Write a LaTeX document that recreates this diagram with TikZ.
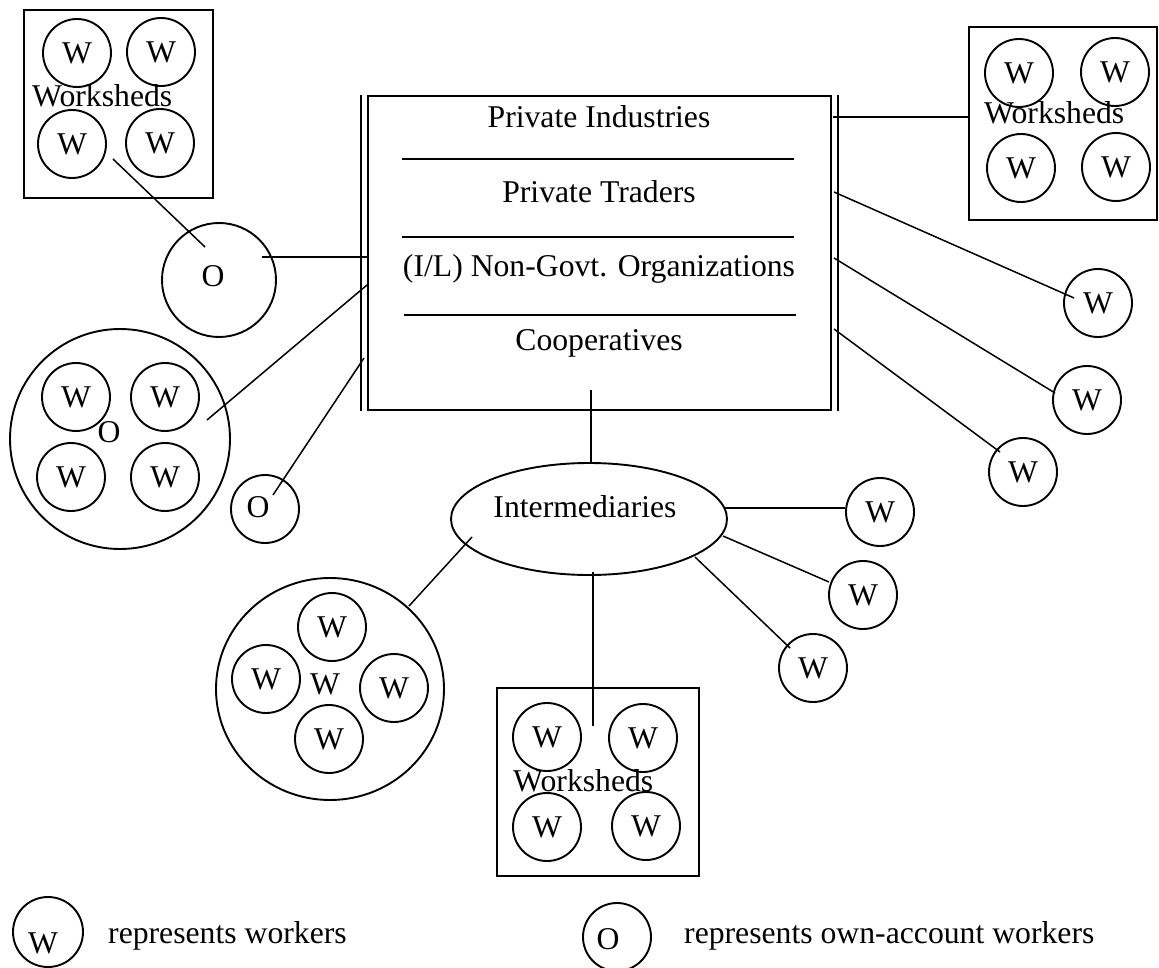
\documentclass[tikz,border=0pt]{standalone}
\usepackage{fontspec}
\setmainfont{Liberation Serif}
\usetikzlibrary{shapes.geometric,calc}
\begin{document}
\begin{tikzpicture}[x=1pt,y=-1pt,
  every node/.style={font=\fontsize{31.7}{38}\selectfont},
  wcirc/.style={circle,draw,line width=1.9pt,minimum size=68pt,inner sep=0pt},
  ocirc/.style={circle,draw,line width=1.9pt,inner sep=0pt},
  wbox/.style={rectangle,draw,line width=2pt,inner sep=0pt},
  lbl/.style={inner sep=0pt,anchor=base},
  lblw/.style={inner sep=0pt,anchor=base west},
  conn/.style={line width=1.5pt},
  sepline/.style={line width=2.2pt}]
\useasboundingbox (0,0) rectangle (1159,968);

% ---------- main box ----------
\node[wbox,minimum width=463pt,minimum height=314pt] (org) at (599.5,253) {};
\draw[line width=2pt] ([xshift=-6pt]org.north west) -- ([xshift=-6pt]org.south west);
\draw[line width=2pt] ([xshift=6pt]org.north east) -- ([xshift=6pt]org.south east);
\draw[sepline] (402,159) -- (794,159);
\draw[sepline] (402,237) -- (794,237);
\draw[sepline] (404,315) -- (796,315);
\node[lbl] (pi) at (599,128) {Private Industries};
\node[lbl] (pt) at (599,203) {Private Traders};
\node[lbl] (ngo) at (599,277) {(I/L) Non-Govt. Organizations};
\node[lbl] (coop) at (599,350) {Cooperatives};

% ---------- top-left worksheds ----------
\node[wbox,minimum width=189pt,minimum height=188pt] (tlbox) at (118.5,104) {};
\node[wcirc] (tl1) at (77,53) {W};
\node[wcirc] (tl2) at (161,52) {W};
\node[wcirc] (tl3) at (72,144) {W};
\node[wcirc] (tl4) at (160,143) {W};
\node[lblw] (tlws) at (32,107) {Worksheds};

% ---------- left own-account ----------
\node[ocirc,minimum size=114pt] (o1) at (219,280) {};
\node[lbl] (o1t) at (213,287) {O};
\node[ocirc,minimum size=220pt] (bc1) at (120,439) {};
\node[wcirc] (bc1a) at (76,397) {W};
\node[wcirc] (bc1b) at (165,397) {W};
\node[wcirc] (bc1c) at (71,477) {W};
\node[wcirc] (bc1d) at (165,477) {W};
\node[lbl] (bc1t) at (109,442) {O};
\node[ocirc,minimum size=68pt] (o2) at (265,509) {};
\node[lbl] (o2t) at (258,517) {O};

% ---------- top-right worksheds ----------
\node[wbox,minimum width=188pt,minimum height=193pt] (trbox) at (1063,123.5) {};
\node[wcirc] (tr1) at (1019,73) {W};
\node[wcirc] (tr2) at (1115,72) {W};
\node[wcirc] (tr3) at (1021,168) {W};
\node[wcirc] (tr4) at (1116,167) {W};
\node[lblw] (trws) at (984,124) {Worksheds};

% ---------- right workers ----------
\node[wcirc] (ra) at (1098,303) {W};
\node[wcirc] (rb) at (1087,400) {W};
\node[wcirc] (rc) at (1023,472) {W};

% ---------- intermediaries ----------
\node[ellipse,draw,line width=1.9pt,minimum width=276pt,minimum height=112pt,inner sep=0pt] (int) at (589,519) {};
\node[lbl] (intt) at (585,517) {Intermediaries};
\node[wcirc] (ia) at (880,512) {W};
\node[wcirc] (ib) at (863,595) {W};
\node[wcirc] (ic) at (813,668) {W};

% bottom-left group
\node[ellipse,draw,line width=1.9pt,minimum width=228pt,minimum height=222pt,inner sep=0pt] (bc2) at (330,689) {};
\node[wcirc] (bc2a) at (332,627) {W};
\node[wcirc] (bc2b) at (266,679) {W};
\node[wcirc] (bc2c) at (394,688) {W};
\node[wcirc] (bc2d) at (329,739) {W};
\node[lbl] (bc2t) at (325,694) {W};

% bottom worksheds
\node[wbox,minimum width=202pt,minimum height=188pt] (bbox) at (598,782) {};
\node[wcirc] (bb1) at (547,737) {W};
\node[wcirc] (bb2) at (643,738) {W};
\node[wcirc] (bb3) at (547,827) {W};
\node[wcirc] (bb4) at (646,826) {W};
\node[lblw] (bbws) at (513,791) {Worksheds};

% ---------- legend ----------
\node[ocirc,minimum size=70pt] (lw) at (48,932) {};
\node[lbl] (lwt) at (43,953) {W};
\node[lblw] (lwd) at (108,943) {represents workers};
\node[ocirc,minimum size=68pt] (lo) at (617,937) {};
\node[lbl] (lot) at (608,949) {O};
\node[lblw] (lod) at (684,943) {represents own-account workers};

% ---------- connector end points ----------
\coordinate (e1) at (113,159);  \coordinate (e2) at (205,247);
\coordinate (e3) at (262,257);  \coordinate (e4) at (367,257);
\coordinate (e5) at (207,420);  \coordinate (e6) at (367,285);
\coordinate (e7) at (273,495);  \coordinate (e8) at (364,358);
\coordinate (e9) at (833,117);
\coordinate (r1s) at (834,192); \coordinate (r1e) at (1074,298);
\coordinate (r2s) at (834,258); \coordinate (r2e) at (1055,393);
\coordinate (r3s) at (834,329); \coordinate (r3e) at (1000,452);
\coordinate (v1) at (591,390);
\coordinate (i1s) at (472,537); \coordinate (i1e) at (409,606);
\coordinate (i2s) at (593,572); \coordinate (i2e) at (593,726);
\coordinate (i3s) at (725,508);
\coordinate (i4s) at (723,536); \coordinate (i4e) at (829,582);
\coordinate (i5s) at (695,557); \coordinate (i5e) at (790,648);

% ---------- connectors ----------
\draw[conn] (e1) -- (e2);
\draw[conn] (e3) -- (e4);
\draw[conn] (e5) -- (e6);
\draw[conn] (e7) -- (e8);
\draw[conn] (e9) -- (e9 -| trbox.west);
\draw[conn] (r1s) -- (r1e);
\draw[conn] (r2s) -- (r2e);
\draw[conn] (r3s) -- (r3e);
\draw[conn] (v1) -- (v1 |- int.north);
\draw[conn] (i1s) -- (i1e);
\draw[conn] (i2s) -- (i2e);
\draw[conn] (i3s) -- (i3s -| ia.west);
\draw[conn] (i4s) -- (i4e);
\draw[conn] (i5s) -- (i5e);
\end{tikzpicture}
\end{document}
